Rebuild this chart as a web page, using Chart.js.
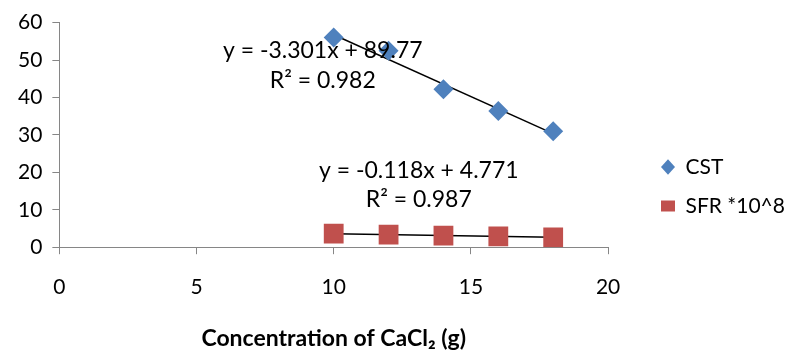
<!DOCTYPE html>
<html>
<head>
<meta charset="utf-8">
<script src="https://cdn.jsdelivr.net/npm/chart.js@4/dist/chart.umd.min.js"></script>
<style>
  html, body { margin: 0; padding: 0; background: #fff; }
  #wrap { width: 799px; height: 352px; }
</style>
</head>
<body>
<div id="wrap"><canvas id="c"></canvas></div>
<script>
// CaCl2 amount (g)
const conc = [10, 12, 14, 16, 18];
// capillary suction time
const cstVals = [56, 52.5, 42.2, 36.4, 31.0];
// specific filtration resistance, scaled by 10^8
const sfrVals = [3.6, 3.35, 3.1, 2.9, 2.65];

const xTicks = [0, 5, 10, 15, 20];
const yTicks = [0, 10, 20, 30, 40, 50, 60];

// trendline coefficients as printed on the chart
const cstFit = { m: -3.301, b: 89.77, r2: '0.982' };
const sfrFit = { m: -0.118, b: 4.771, r2: '0.987' };

const FONT = 'Lato, "Open Sans", sans-serif';
const axisGrey = '#868686';

function pts(xs, ys) {
  return xs.map((x, i) => ({ x: x, y: ys[i] }));
}
function fitLine(f) {
  const x0 = conc[0], x1 = conc[conc.length - 1];
  return [{ x: x0, y: f.m * x0 + f.b }, { x: x1, y: f.m * x1 + f.b }];
}

// equation labels, placed in data coordinates
const eqLabels = [
  { x: 9.6, y: 52.6, text: 'y = ' + cstFit.m + 'x + ' + cstFit.b },
  { x: 9.6, y: 44.5, text: 'R² = ' + cstFit.r2 },
  { x: 13.1, y: 20.5, text: 'y = ' + sfrFit.m + 'x + ' + sfrFit.b },
  { x: 13.1, y: 12.8, text: 'R² = ' + sfrFit.r2 }
];

const eqPlugin = {
  id: 'eqLabels',
  afterDatasetsDraw(chart) {
    const ctx = chart.ctx, xs = chart.scales.x, ys = chart.scales.y;
    ctx.save();
    ctx.font = '23px ' + FONT;
    ctx.fillStyle = '#000';
    ctx.textAlign = 'center';
    ctx.textBaseline = 'middle';
    eqLabels.forEach(l => {
      ctx.fillText(l.text, xs.getPixelForValue(l.x), ys.getPixelForValue(l.y));
    });
    ctx.restore();
  }
};

// push the legend a bit right/down, away from the plot
const legendShift = {
  id: 'legendShift',
  afterLayout(chart) {
    const lg = chart.legend;
    if (!lg) return;
    const w = lg.width;
    lg.left = 643;
    lg.right = 643 + w;
    lg.top += 3;
    lg.bottom += 3;
  }
};

const config = {
  type: 'scatter',
  data: {
    datasets: [
      {
        label: 'CST',
        data: pts(conc, cstVals),
        pointStyle: 'rectRot',
        pointRadius: 10,
        backgroundColor: '#4F81BD',
        borderColor: '#4F81BD',
        borderWidth: 0
      },
      {
        label: 'SFR *10^8',
        data: pts(conc, sfrVals),
        pointStyle: 'rect',
        pointRadius: 14,
        backgroundColor: '#C0504D',
        borderColor: '#C0504D',
        borderWidth: 0
      },
      {
        label: 'trend1',
        type: 'line',
        data: fitLine(cstFit),
        borderColor: '#000',
        borderWidth: 1.5,
        pointRadius: 0
      },
      {
        label: 'trend2',
        type: 'line',
        data: fitLine(sfrFit),
        borderColor: '#000',
        borderWidth: 1.5,
        pointRadius: 0
      }
    ]
  },
  options: {
    responsive: true,
    maintainAspectRatio: false,
    animation: false,
    layout: { padding: { left: 8, top: 15, right: 39, bottom: 0 } },
    plugins: {
      tooltip: { enabled: false },
      legend: {
        position: 'right',
        labels: {
          usePointStyle: true,
          boxHeight: 11,
          pointStyleWidth: 14,
          padding: 18,
          color: '#000',
          font: { family: FONT, size: 21 },
          filter: item => item.text.indexOf('trend') !== 0
        }
      }
    },
    scales: {
      x: {
        type: 'linear',
        min: 0,
        max: 20,
        afterBuildTicks: s => { s.ticks = xTicks.map(v => ({ value: v })); },
        grid: { drawOnChartArea: false, drawTicks: true, tickLength: 7, color: axisGrey },
        border: { color: axisGrey },
        ticks: { color: '#000', padding: 20, font: { family: FONT, size: 21 } },
        title: {
          display: true,
          text: 'Concentration of CaCl₂ (g)',
          color: '#000',
          padding: { top: 5, bottom: 0 },
          font: { family: FONT, size: 23, weight: 'bold' }
        }
      },
      y: {
        min: 0,
        max: 60,
        afterBuildTicks: s => { s.ticks = yTicks.map(v => ({ value: v })); },
        grid: { drawOnChartArea: false, drawTicks: true, tickLength: 7, color: axisGrey },
        border: { color: axisGrey },
        ticks: { color: '#000', padding: 10, font: { family: FONT, size: 21 } }
      }
    }
  },
  plugins: [eqPlugin, legendShift]
};

window.onload = function () {
  const ctx = document.getElementById('c').getContext('2d');
  new Chart(ctx, config);
};
</script>
</body>
</html>
